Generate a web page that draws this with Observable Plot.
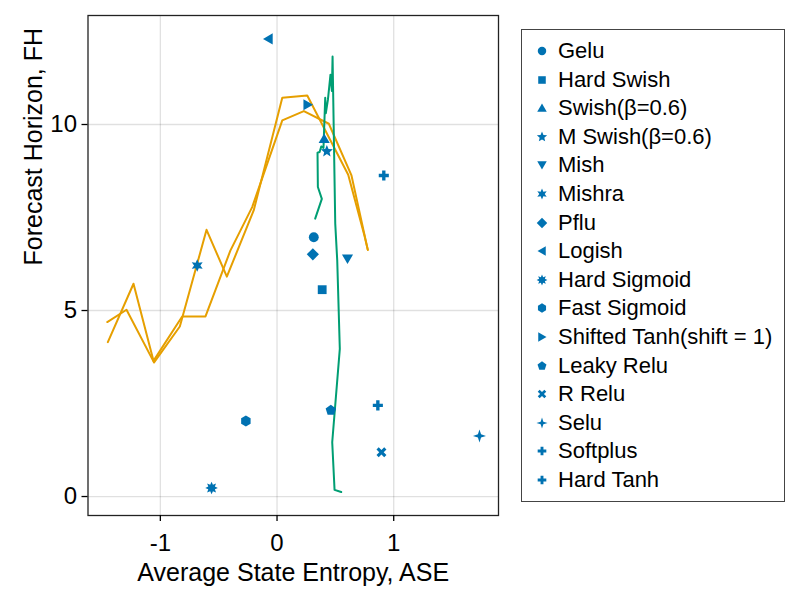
<!DOCTYPE html>
<html>
<head>
<meta charset="utf-8">
<script src="https://cdn.jsdelivr.net/npm/d3@7"></script>
<script src="https://cdn.jsdelivr.net/npm/@observablehq/plot@0.6"></script>
<style>
  body { margin: 0; background: #fff; }
  #wrap { position: relative; width: 800px; height: 600px; font-family: "Liberation Sans", Arial, sans-serif; color: #000; }
  #wrap > svg { position: absolute; left: 0; top: 0; }
  #legend { position: absolute; left: 521px; top: 29px; width: 264px; height: 473px; border: 1.3px solid #444; box-sizing: border-box; background: #fff; }
  .row { position: absolute; left: 0; height: 28px; display: flex; align-items: center; font-size: 22px; white-space: nowrap; }
  .row svg { width: 20px; height: 20px; margin-left: 10px; margin-right: 6px; }
</style>
</head>
<body>
<div id="wrap"><div id="legend"></div></div>
<script>
// ---- data ----
const names = ["Gelu", "Hard Swish", "Swish(β=0.6)", "M Swish(β=0.6)", "Mish", "Mishra", "Pflu", "Logish",
  "Hard Sigmoid", "Fast Sigmoid", "Shifted Tanh(shift = 1)", "Leaky Relu", "R Relu", "Selu", "Softplus", "Hard Tanh"];
const aseValues = [0.315, 0.387, 0.404, 0.427, 0.604, -0.684, 0.307, -0.075, -0.561, -0.267, 0.264, 0.461, 0.895, 1.735, 0.864, 0.915];
const fhValues  = [6.97, 5.56, 9.62, 9.28, 6.39, 6.21, 6.51, 12.30, 0.23, 2.03, 10.53, 2.32, 1.19, 1.63, 2.45, 8.63];
const markerKinds = ["circle", "rect", "utriangle", "star5", "dtriangle", "star6", "diamond", "ltriangle",
  "star8", "hexagon", "rtriangle", "pentagon", "xcross", "star4", "cross", "cross"];

const orangeAX = [-1.45, -1.23, -1.055, -0.833, -0.604, -0.43, -0.20, 0.045, 0.259, 0.61, 0.75, 0.778];
const orangeAY = [4.15, 5.72, 3.60, 4.57, 7.17, 5.91, 7.69, 10.72, 10.78, 8.65, 7.0, 6.63];
const orangeBX = [-1.455, -1.29, -1.06, -0.813, -0.613, -0.40, -0.213, 0.045, 0.23, 0.444, 0.638, 0.778];
const orangeBY = [4.69, 5.02, 3.64, 4.84, 4.84, 6.61, 7.78, 10.11, 10.36, 10.02, 8.63, 6.63];
const greenX = [0.327, 0.384, 0.35, 0.347, 0.365, 0.379, 0.398, 0.413, 0.418, 0.436, 0.458, 0.47, 0.476, 0.499, 0.516, 0.538, 0.473, 0.493, 0.55];
const greenY = [7.47, 8.0, 8.32, 9.24, 9.26, 9.41, 9.37, 10.72, 10.3, 10.66, 11.34, 10.9, 11.83, 7.33, 6.34, 3.97, 1.46, 0.18, 0.12];

const xTicks = [-1, 0, 1];
const yTicks = [0, 5, 10];
const xLabel = "Average State Entropy, ASE";
const yLabel = "Forecast Horizon, FH";

// ---- marker shapes (unit = marker size) ----
function polyPts(ctx, pts, u) {
  pts.forEach(([px, py], i) => i ? ctx.lineTo(px * u, py * u) : ctx.moveTo(px * u, py * u));
  ctx.closePath();
}
function ngon(n, r, a0) { return d3.range(n).map(k => { const a = a0 + 2 * Math.PI * k / n; return [r * Math.cos(a), r * Math.sin(a)]; }); }
function star(n, ri, ro, a0) {
  return d3.range(2 * n).map(k => { const a = a0 + Math.PI * k / n; const r = k % 2 ? ri : ro; return [r * Math.cos(a), r * Math.sin(a)]; });
}
function plus(L, t, rot) {
  const base = [[-t,-L],[t,-L],[t,-t],[L,-t],[L,t],[t,t],[t,L],[-t,L],[-t,t],[-L,t],[-L,-t],[-t,-t]];
  const c = Math.cos(rot), s = Math.sin(rot);
  return base.map(([x, y]) => [x * c - y * s, x * s + y * c]);
}
const up = -Math.PI / 2;
const shapePts = {
  rect: [[-0.42,-0.42],[0.42,-0.42],[0.42,0.42],[-0.42,0.42]],
  utriangle: [[0,-0.5],[0.53,0.42],[-0.53,0.42]],
  dtriangle: [[-0.53,-0.42],[0.53,-0.42],[0,0.5]],
  ltriangle: [[-0.5,0],[0.42,-0.53],[0.42,0.53]],
  rtriangle: [[0.5,0],[-0.42,-0.53],[-0.42,0.53]],
  diamond: ngon(4, 0.58, up),
  hexagon: ngon(6, 0.52, up),
  pentagon: ngon(5, 0.52, up),
  star4: star(4, 0.21, 0.62, up),
  star5: star(5, 0.27, 0.6, up),
  star6: star(6, 0.3, 0.6, up),
  star8: star(8, 0.34, 0.6, up),
  cross: plus(0.48, 0.16, 0),
  xcross: plus(0.52, 0.15, Math.PI / 4)
};
function makeSymbol(kind) {
  return {
    draw(ctx, size) {
      const u = 2 * Math.sqrt(size / Math.PI);
      if (kind === "circle") { const r = 0.47 * u; ctx.moveTo(r, 0); ctx.arc(0, 0, r, 0, 2 * Math.PI); ctx.closePath(); }
      else polyPts(ctx, shapePts[kind], u);
    }
  };
}
const symbols = markerKinds.map(makeSymbol);

// ---- tables ----
const points = names.map((n, i) => ({name: n, ase: aseValues[i], fh: fhValues[i]}));
const orangeRows = [
  ...orangeAX.map((x, i) => ({s: "A", x, y: orangeAY[i]})),
  ...orangeBX.map((x, i) => ({s: "B", x, y: orangeBY[i]}))
];
const greenRows = greenX.map((x, i) => ({x, y: greenY[i]}));

const blue = "#0072B2", orange = "#E69F00", green = "#009E73";

const chart = Plot.plot({
  width: 800, height: 600,
  marginLeft: 87.5, marginRight: 302, marginTop: 15, marginBottom: 85,
  style: {fontFamily: "'Liberation Sans', Arial, sans-serif", fontSize: "24px", color: "#000", background: "transparent"},
  x: {domain: [-1.62, 1.898]},
  y: {domain: [-0.51, 12.93]},
  marks: [
    Plot.gridX(xTicks, {stroke: "#000", strokeOpacity: 0.12, strokeWidth: 1.3}),
    Plot.gridY(yTicks, {stroke: "#000", strokeOpacity: 0.12, strokeWidth: 1.3}),
    Plot.line(orangeRows, {x: "x", y: "y", z: "s", stroke: orange, strokeWidth: 2}),
    Plot.line(greenRows, {x: "x", y: "y", stroke: green, strokeWidth: 2}),
    ...points.map((p, i) => Plot.dot([p], {x: "ase", y: "fh", symbol: symbols[i], r: 5.25, fill: blue, stroke: "none"})),
    Plot.frame({stroke: "#222", strokeWidth: 1.3}),
    Plot.axisX(xTicks, {tickSize: 6, tickPadding: 12, fontSize: 24, label: null, tickFormat: d => String(d), strokeWidth: 1.3}),
    Plot.axisY(yTicks, {tickSize: 6, tickPadding: 5, fontSize: 24, label: null, tickFormat: d => String(d), strokeWidth: 1.3}),
    Plot.text([xLabel], {text: d => d, frameAnchor: "bottom", dy: 65, lineAnchor: "bottom", fontSize: 25}),
    Plot.text([yLabel], {text: d => d, frameAnchor: "left", dx: -46, rotate: -90, lineAnchor: "bottom", fontSize: 25})
  ]
});
document.getElementById("wrap").prepend(chart);

// ---- legend ----
const legend = document.getElementById("legend");
names.forEach((n, i) => {
  const row = document.createElement("div");
  row.className = "row";
  row.style.top = (7 + 28.6 * i) + "px";
  const p = d3.path();
  symbols[i].draw(p, Math.PI * 20.25);
  row.innerHTML = `<svg viewBox="-10 -10 20 20"><path d="${p.toString()}" fill="${blue}"></path></svg><span>${n}</span>`;
  legend.appendChild(row);
});
</script>
</body>
</html>
